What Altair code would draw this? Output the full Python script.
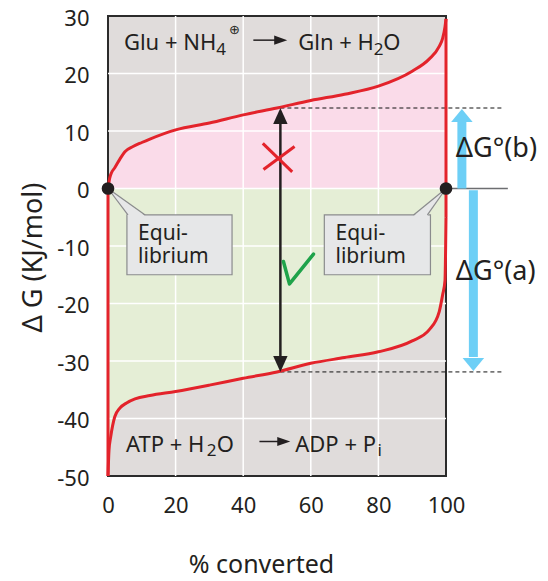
import altair as alt
import pandas as pd

FONT = "Noto Sans"
INK = "#231f20"
RED = "#e3232b"
BLUE = "#6dcff6"

X_TICKS = [0, 20, 40, 60, 80, 100]
Y_TICKS = [-50, -40, -30, -20, -10, 0, 10, 20, 30]
GRID_X = [20, 40, 60, 80]
GRID_Y = [-40, -30, -20, -10, 0, 10, 20]

# Glu + NH4 -> Gln + H2O  (upper curve)
UPPER_X = [0, 0.5, 1, 2, 3.6, 5, 7.4, 10, 12.4, 20, 30, 40, 50, 60, 70, 80, 90, 95, 98, 99, 99.7, 100]
UPPER_Y = [0, 1.8, 2.7, 3.6, 5.2, 6.4, 7.3, 8.0, 8.6, 10.2, 11.4, 12.8, 14.0, 15.3, 16.4, 17.8, 20.4, 22.5, 24.7, 26.1, 28.1, 29.5]
# ATP + H2O -> ADP + Pi  (lower curve)
LOWER_X = [0, 0.3, 0.8, 2, 3.5, 5.5, 8, 12.4, 20, 30, 40, 50, 60, 70, 80, 90, 95, 98, 99, 99.7, 100]
LOWER_Y = [-50, -45.5, -43.2, -39.7, -38.2, -37.3, -36.6, -36.0, -35.3, -34.2, -33.0, -31.9, -30.4, -29.4, -28.4, -26.5, -24.6, -21.4, -18.5, -16.0, -5.0]

EDGE_X = [0, 100]
EDGE_Y1 = [-50, -5.0]
EDGE_Y2 = [0, 29.5]

EQ_X = [0, 100]
EQ_Y = [0, 0]

LABEL_TEXT = ["Glu + NH", "4", "Gln + H", "2", "O",
              "ATP + H", "2", "O", "ADP + P", "i",
              "Equi-", "librium", "Equi-", "librium",
              "\u0394G\u00b0(b)", "\u0394G\u00b0(a)"]
LABEL_X = [4.7, 32.0, 56.3, 78.6, 81.4,
           5.3, 29.2, 32.2, 55.4, 79.7,
           8.9, 8.9, 67.3, 67.3,
           102.9, 102.9]
LABEL_Y = [24.1, 23.3, 24.1, 23.3, 24.1,
           -45.8, -46.5, -45.8, -45.8, -46.6,
           -8.96, -12.96, -8.96, -12.96,
           5.5, -15.9]
LABEL_SIZE = [22, 17, 22, 17, 22,
              22, 17, 22, 22, 17,
              21, 21, 21, 21,
              27, 27]

BOX_X1 = [5.6, 64.0]
BOX_X2 = [36.7, 95.4]
BOX_Y1 = [-4.6, -4.6]
BOX_Y2 = [-15.0, -15.0]
PTR_X = [0, 5.9, 11.0, 90.4, 94.5, 100]
PTR_TOP = [0, -2.47, -4.8, -4.8, -2.64, 0]
PTR_BOT = [0, -4.8, -4.8, -4.8, -4.8, 0]
PTR_G = ["a", "a", "a", "b", "b", "b"]
PTR_EDGE_X = [0, 0, 100, 100]
PTR_EDGE_Y = [0, 0, 0, 0]
PTR_EDGE_X2 = [5.9, 11.0, 90.4, 94.5]
PTR_EDGE_Y2 = [-4.6, -4.6, -4.6, -4.6]

DASH_Y = [14.0, -31.9]
DASH_X1 = [51, 51]
DASH_X2 = [117.1, 117.1]

xs = alt.Scale(domain=[0, 100], nice=False, zero=False)
ys = alt.Scale(domain=[-50, 30], nice=False, zero=False)


def X(f):
    return alt.X(f, type="quantitative", scale=xs)


def Y(f):
    return alt.Y(f, type="quantitative", scale=ys)


upper = pd.DataFrame({"x": UPPER_X, "y": UPPER_Y, "z": [0] * len(UPPER_X)})
lower = pd.DataFrame({"x": LOWER_X, "y": LOWER_Y, "z": [0] * len(LOWER_X)})

frame_df = pd.DataFrame({"x0": [0], "x1": [100], "y0": [-50], "y1": [30]})

pink = alt.Chart(upper).mark_area(color="#fadbe9", interpolate="monotone").encode(
    x=X("x"), y=Y("y"), y2="z")
green = alt.Chart(lower).mark_area(color="#e5eed6", interpolate="monotone").encode(
    x=X("x"), y=Y("y"), y2="z")

gx = alt.Chart(pd.DataFrame({"g": GRID_X, "a": [-50] * 4, "b": [30] * 4})).mark_rule(
    color="white", strokeWidth=1.5).encode(x=X("g"), y=Y("a"), y2="b")
gy = alt.Chart(pd.DataFrame({"g": GRID_Y, "a": [0] * 7, "b": [100] * 7})).mark_rule(
    color="white", strokeWidth=1.5).encode(y=Y("g"), x=X("a"), x2="b")

frame = alt.Chart(frame_df).mark_rect(fillOpacity=0, stroke="#2b2b2b", strokeWidth=2).encode(
    x=alt.X("x0:Q", scale=xs, title="% converted",
            axis=alt.Axis(values=X_TICKS, grid=False, domain=False, ticks=False, tickSize=0,
                          labelFont=FONT, labelFontSize=22, labelColor=INK, labelPadding=19,
                          labelFlush=False, labelOverlap=False,
                          titleFont=FONT, titleFontSize=25, titleFontWeight="normal",
                          titleColor=INK, titleX=153, titleY=96, titleBaseline="alphabetic")),
    x2="x1:Q",
    y=alt.Y("y0:Q", scale=ys, title="\u0394 G (KJ/mol)",
            axis=alt.Axis(values=Y_TICKS, grid=False, domain=False, ticks=False, tickSize=0,
                          labelFont=FONT, labelFontSize=22, labelColor=INK, labelPadding=19,
                          labelOverlap=False, labelOffset=2,
                          labelExpr="datum.value < 0 ? '-' + abs(datum.value) : '' + datum.value",
                          titleFont=FONT, titleFontSize=27, titleFontWeight="normal",
                          titleColor=INK, titleAngle=270, titleX=-67, titleY=241,
                          titleBaseline="alphabetic", titleAlign="center")),
    y2="y1:Q",
)

dash = alt.Chart(pd.DataFrame({"y": DASH_Y, "x1": DASH_X1, "x2": DASH_X2})).mark_rule(
    color="#111111", strokeWidth=1, strokeDash=[4, 3]).encode(x=X("x1"), x2="x2", y=Y("y"))

zero_line = alt.Chart(pd.DataFrame({"x1": [100], "x2": [118.3], "y": [0]})).mark_rule(
    color="#6d6e71", strokeWidth=1.5).encode(x=X("x1"), x2="x2", y=Y("y"))

upper_line = alt.Chart(upper).mark_line(color=RED, strokeWidth=3, interpolate="monotone").encode(
    x=X("x"), y=Y("y"))
lower_line = alt.Chart(lower).mark_line(color=RED, strokeWidth=3, interpolate="monotone").encode(
    x=X("x"), y=Y("y"))
edges = alt.Chart(pd.DataFrame({"x": EDGE_X, "y1": EDGE_Y1, "y2": EDGE_Y2})).mark_rule(
    color=RED, strokeWidth=3).encode(x=X("x"), y=Y("y1"), y2="y2")

arrow_shaft = alt.Chart(pd.DataFrame({"x": [51], "y1": [11.5], "y2": [-29.5]})).mark_rule(
    color=INK, strokeWidth=2.5).encode(x=X("x"), y=Y("y1"), y2="y2")
arrow_up = alt.Chart(pd.DataFrame({"x": [51], "y": [12.6]})).mark_point(
    shape="M-0.9,1L0,-1L0.9,1Z", size=256, filled=True, opacity=1, color=INK).encode(
    x=X("x"), y=Y("y"))
arrow_down = alt.Chart(pd.DataFrame({"x": [51], "y": [-30.5]})).mark_point(
    shape="M-0.9,-1L0,1L0.9,-1Z", size=256, filled=True, opacity=1, color=INK).encode(
    x=X("x"), y=Y("y"))

cross = alt.Chart(pd.DataFrame({"x1": [45.8, 55.2], "y1": [7.85, 7.3],
                                "x2": [54.5, 46.0], "y2": [2.9, 3.3]})).mark_rule(
    color=RED, strokeWidth=3).encode(x=X("x1"), y=Y("y1"), x2="x2", y2="y2")
check = alt.Chart(pd.DataFrame({"x": [51.9, 53.7, 60.8], "y": [-12.7, -16.6, -11.4],
                                "o": [0, 1, 2]})).mark_line(
    color="#1fa34a", strokeWidth=3.5, strokeCap="round", strokeJoin="round").encode(
    x=X("x"), y=Y("y"), order="o:Q")

blue_shaft = alt.Chart(pd.DataFrame({"x": [104.7, 108.1], "y1": [0, -0.3], "y2": [11.8, -29.3]})).mark_rule(
    color=BLUE, strokeWidth=9).encode(x=X("x"), y=Y("y1"), y2="y2")
blue_up = alt.Chart(pd.DataFrame({"x": [104.7], "y": [12.7]})).mark_point(
    shape="M-1,0.6L0,-0.6L1,0.6Z", size=462, filled=True, opacity=1, color=BLUE).encode(
    x=X("x"), y=Y("y"))
blue_down = alt.Chart(pd.DataFrame({"x": [108.1], "y": [-30.6]})).mark_point(
    shape="M-1,-0.6L0,0.6L1,-0.6Z", size=462, filled=True, opacity=1, color=BLUE).encode(
    x=X("x"), y=Y("y"))

rx_shaft = alt.Chart(pd.DataFrame({"x1": [43.0, 44.8], "x2": [50.5, 51.5], "y": [25.8, -44.0]})).mark_rule(
    color=INK, strokeWidth=1.5).encode(x=X("x1"), x2="x2", y=Y("y"))
rx_head = alt.Chart(pd.DataFrame({"x": [51.1, 52.0], "y": [25.8, -44.0]})).mark_point(
    shape="M-1,-0.7L1,0L-1,0.7Z", size=169, filled=True, opacity=1, color=INK).encode(
    x=X("x"), y=Y("y"))

boxes = alt.Chart(pd.DataFrame({"x1": BOX_X1, "x2": BOX_X2, "y1": BOX_Y1, "y2": BOX_Y2})).mark_rect(
    fill="#e6e7e8", stroke="#8a8b8d", strokeWidth=1.2).encode(x=X("x1"), x2="x2", y=Y("y1"), y2="y2")
ptr = alt.Chart(pd.DataFrame({"x": PTR_X, "t": PTR_TOP, "b": PTR_BOT, "g": PTR_G})).mark_area(
    color="#e6e7e8").encode(x=X("x"), y=Y("t"), y2="b", detail="g:N")
ptr_edge = alt.Chart(pd.DataFrame({"x1": PTR_EDGE_X, "y1": PTR_EDGE_Y,
                                   "x2": PTR_EDGE_X2, "y2": PTR_EDGE_Y2})).mark_rule(
    color="#8a8b8d", strokeWidth=1.2).encode(x=X("x1"), y=Y("y1"), x2="x2", y2="y2")

dots = alt.Chart(pd.DataFrame({"x": EQ_X, "y": EQ_Y})).mark_point(
    shape="circle", size=160, filled=True, opacity=1, color=INK).encode(x=X("x"), y=Y("y"))

labels = alt.Chart(pd.DataFrame({"t": LABEL_TEXT, "x": LABEL_X, "y": LABEL_Y, "s": LABEL_SIZE})).mark_text(
    align="left", baseline="alphabetic", font=FONT, color=INK).encode(
    x=X("x"), y=Y("y"), text="t:N", size=alt.Size("s:Q", scale=None, legend=None))
oplus = alt.Chart(pd.DataFrame({"t": ["\u2295"], "x": [37.4], "y": [27.6]})).mark_text(
    align="center", baseline="middle", font="DejaVu Sans", fontSize=13, color=INK).encode(
    x=X("x"), y=Y("y"), text="t:N")

page_edge = alt.Chart(pd.DataFrame({"x": [129.8], "y1": [33.0], "y2": [-69.0]})).mark_rule(
    color="#333333", strokeWidth=2).encode(x=X("x"), y=Y("y1"), y2="y2")

chart = alt.layer(
    frame, pink, green, gx, gy, dash, zero_line,
    upper_line, lower_line, edges,
    arrow_shaft, arrow_up, arrow_down, cross, check,
    blue_shaft, blue_up, blue_down, rx_shaft, rx_head,
    boxes, ptr, ptr_edge, dots, labels, oplus, page_edge,
).properties(
    width=338, height=460,
    autosize=alt.AutoSizeParams(type="none"),
    padding={"left": 100, "top": 8, "right": 94, "bottom": 105},
).configure_axis(
    grid=False, domain=False, ticks=False
).configure_view(
    fill="#e0dcdb", strokeWidth=0
)

chart.save("out.html", embed_options={"renderer": "svg", "actions": False})
